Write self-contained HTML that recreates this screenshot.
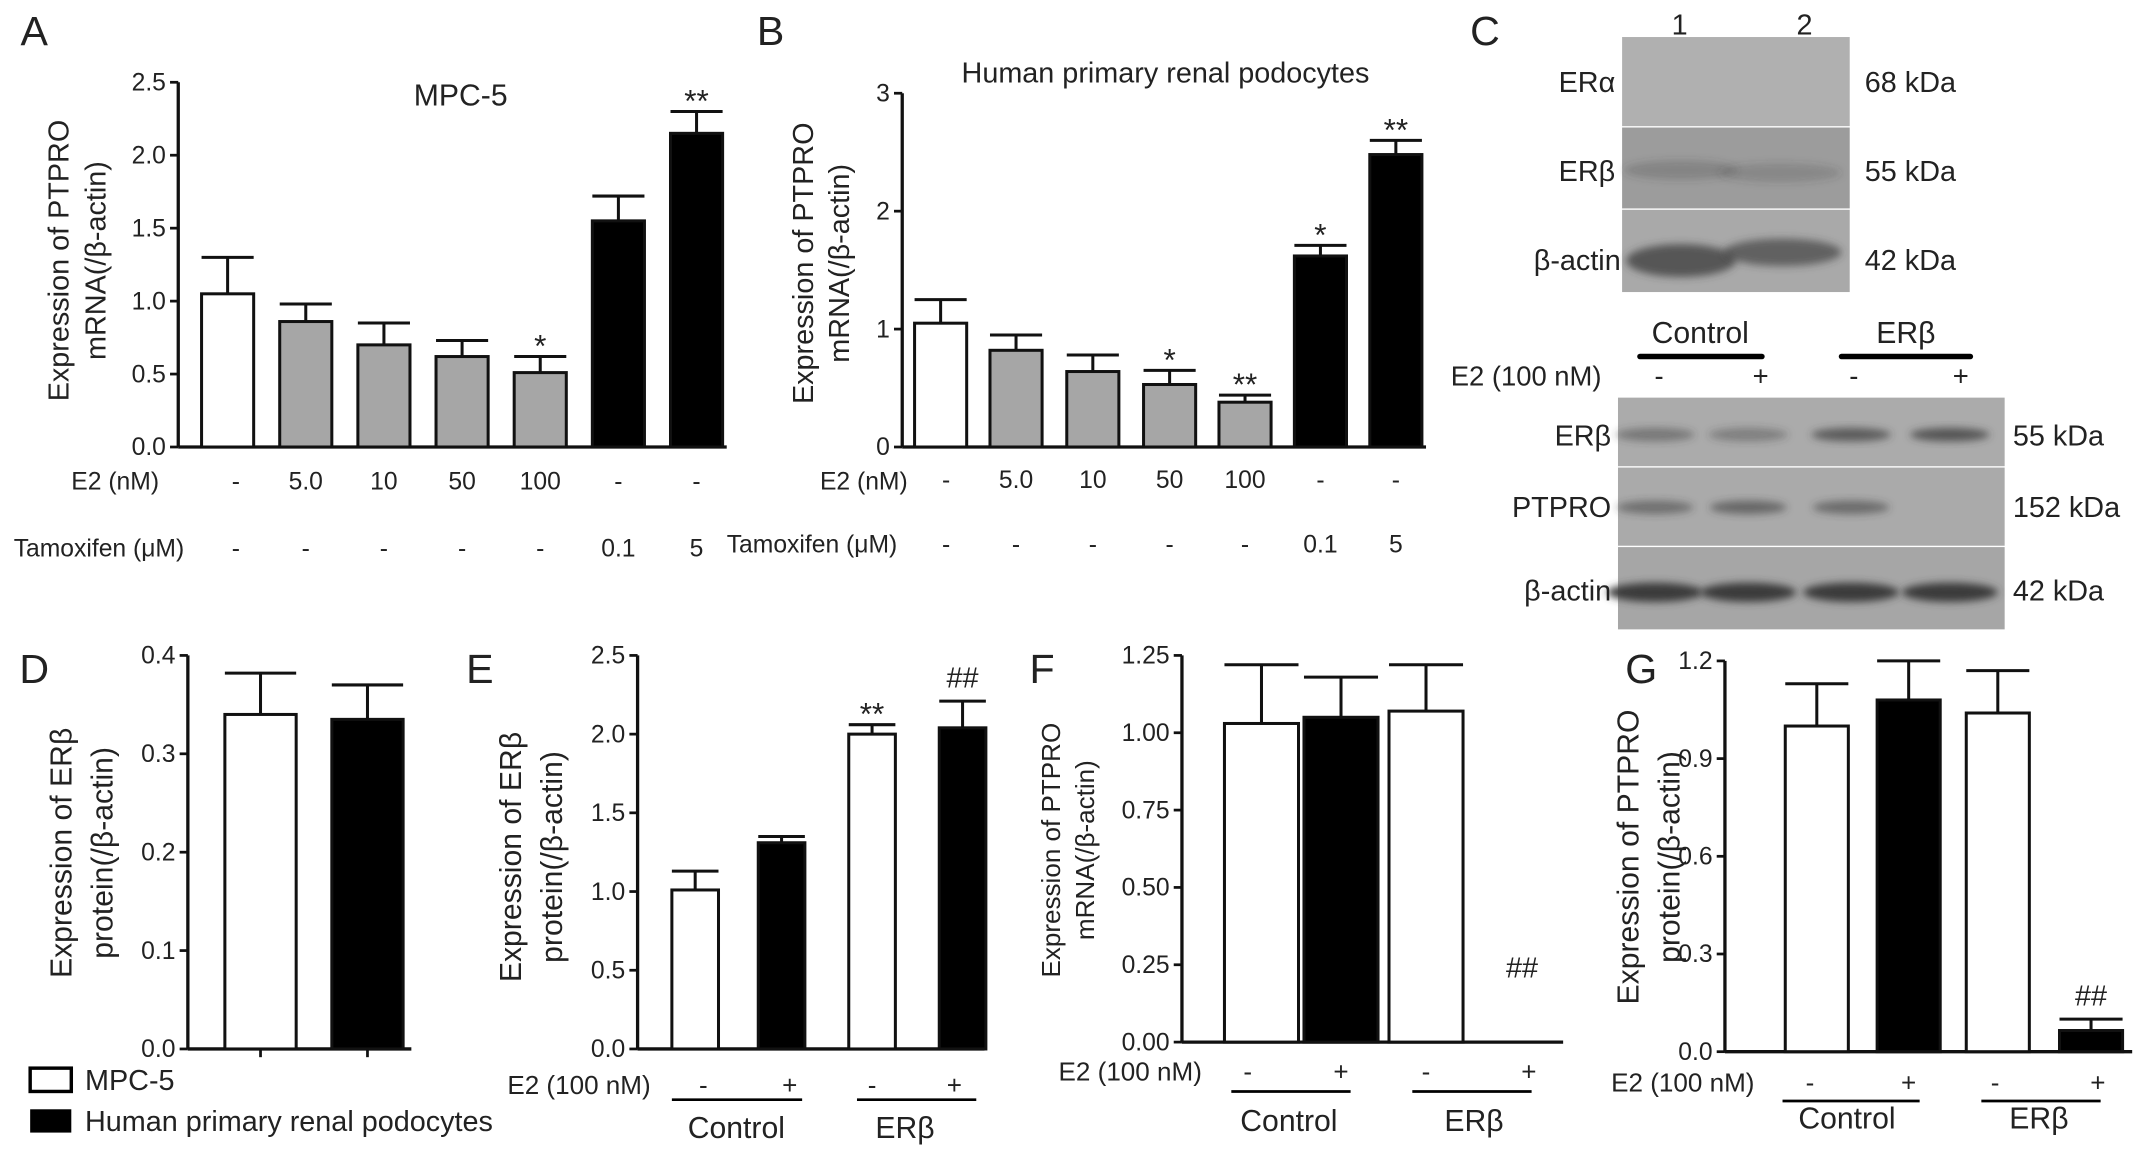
<!DOCTYPE html>
<html><head><meta charset="utf-8">
<style>
html,body{margin:0;padding:0;background:#fff;}
svg{display:block;}
text{font-family:"Liberation Sans",sans-serif;fill:#222;}
</style></head>
<body>
<svg id="fig" width="2150" height="1157" viewBox="0 0 1568 843.8" preserveAspectRatio="none" xmlns="http://www.w3.org/2000/svg">
<defs><filter id="blur" x="-20%" y="-50%" width="140%" height="200%"><feGaussianBlur stdDeviation="3"/></filter></defs>
<g id="root"></g>
</svg>
<script>
// ---- Panel A data (MPC-5) ----
const aValues=[1.05,0.86,0.70,0.62,0.51,1.55,2.15];
const aErrors=[0.25,0.12,0.15,0.11,0.11,0.17,0.15];
const aStars=["","","","","*","","**"];
const aE2=["-","5.0","10","50","100","-","-"];
const aTam=["-","-","-","-","-","0.1","5"];
const aTicks=["0.0","0.5","1.0","1.5","2.0","2.5"];
// ---- Panel B data ----
const bValues=[1.05,0.82,0.64,0.53,0.38,1.62,2.48];
const bErrors=[0.20,0.13,0.14,0.12,0.06,0.09,0.12];
const bStars=["","","","*","**","*","**"];
const bE2=["-","5.0","10","50","100","-","-"];
const bTam=["-","-","-","-","-","0.1","5"];
const bTicks=["0","1","2","3"];
// ---- Panel D ----
const dValues=[0.34,0.335];
const dErrors=[0.042,0.035];
const dTicks=["0.0","0.1","0.2","0.3","0.4"];
// ---- Panel E ----
const eValues=[1.01,1.31,2.0,2.04];
const eErrors=[0.12,0.04,0.06,0.17];
const eMarks=["","","**","##"];
const eTicks=["0.0","0.5","1.0","1.5","2.0","2.5"];
// ---- Panel F ----
const fValues=[1.03,1.05,1.07,0];
const fErrors=[0.19,0.13,0.15,0];
const fMarks=["","","",""];
const fTicks=["0.00","0.25","0.50","0.75","1.00","1.25"];
// ---- Panel G ----
const gValues=[1.0,1.08,1.04,0.065];
const gErrors=[0.13,0.12,0.13,0.035];
const gMarks=["","","","##"];
const gTicks=["0.0","0.3","0.6","0.9","1.2"];
const e2Signs=["-","+","-","+"];

const NS="http://www.w3.org/2000/svg";
const root=document.getElementById('root');
function el(tag,attrs,parent){const e=document.createElementNS(NS,tag);for(const k in attrs)e.setAttribute(k,attrs[k]);(parent||root).appendChild(e);return e;}
function txt(x,y,s,size,anchor,name,parent,extra){const t=el('text',Object.assign({x:x,y:y,'font-size':size,'text-anchor':anchor||'middle'},extra||{}),parent);t.textContent=s;


return t;}

function panel(o){
  const g=el('g',{});
  
  
  const ymax=parseFloat(o.ticks[o.ticks.length-1]);
  const y=v=>o.bottom-(v/ymax)*(o.bottom-o.top);
  const x=i=>o.centers[i];
  const ax=el('line',{x1:o.axisX,y1:o.top,x2:o.axisX,y2:o.bottom,stroke:'#111','stroke-width':2.4},g);
  
  
  const bx=el('line',{x1:o.axisX,y1:o.bottom,x2:o.axisEnd,y2:o.bottom,stroke:'#111','stroke-width':2.4},g);
  
  
  o.ticks.forEach((t,i)=>{const v=parseFloat(t);const yy=y(v);
    const tk=el('line',{x1:o.axisX-6,y1:yy,x2:o.axisX,y2:yy,stroke:'#111','stroke-width':2},g);
    
    
    txt(o.axisX-9,yy+6,t,18,'end','y-tick-label',g);});
  if(o.xticks){o.centers.forEach(c=>{const tk=el('line',{x1:c,y1:o.bottom,x2:c,y2:o.bottom+6,stroke:'#111','stroke-width':2},g);
    
    });}
  o.values.forEach((v,i)=>{
    const top=y(v+o.errors[i]);
    if(o.errors[i]>0){
      const e1=el('line',{x1:x(i),y1:y(v),x2:x(i),y2:top,stroke:'#111','stroke-width':2.2},g);
      
      
      const e2=el('line',{x1:x(i)-o.bw/2,y1:top,x2:x(i)+o.bw/2,y2:top,stroke:'#111','stroke-width':2.2},g);
      
      
    }
    if(v>0){
      const r=el('rect',{x:x(i)-o.bw/2,y:y(v),width:o.bw,height:o.bottom-y(v),fill:o.colors[i],stroke:'#111','stroke-width':2.2},g);
      
      
    }
    if(o.marks&&o.marks[i]){
      const isHash=o.marks[i].startsWith('#');
      const yy=top-(isHash?10:8);
      txt(x(i),isHash?yy:yy+8,o.marks[i],isHash?21:23,'middle','significance-mark',g,isHash?{'font-family':'Liberation Serif, serif'}:{});
    }
  });
  return g;
}

[["A",25,33],["B",562,33],["C",1083,33],["D",25,498],["E",350,498],["F",760,498],["G",1197,498]].forEach(l=>txt(l[1],l[2],l[0],30,'middle','panel-label-'+l[0].toLowerCase()));

const W='#fff',K='#000',G='#a6a6a6';
panel({name:'panel-a-chart',axisX:130,axisEnd:530,top:60,bottom:326,ticks:aTicks,values:aValues,errors:aErrors,
  centers:[166,223,280,337,394,451,508],bw:38,colors:[W,G,G,G,G,K,K],marks:aStars});
txt(336,77,'MPC-5',22,'middle','panel-a-title');
txt(50,190,'Expression of PTPRO',21,'middle','panel-a-y-title',null,{transform:'rotate(-90 50 190)'});
txt(77,190,'mRNA(/β-actin)',21,'middle','panel-a-y-title-2',null,{transform:'rotate(-90 77 190)'});
txt(52,357,'E2 (nM)',18,'start','e2-label');
[166,223,280,337,394,451,508].forEach((c,i)=>{txt(i==0?172:c,357,aE2[i],18,'middle','e2-value');txt(i==0?172:c,406,aTam[i],18,'middle','tamoxifen-value');});
txt(10,406,'Tamoxifen (μM)',18,'start','tamoxifen-label');

panel({name:'panel-b-chart',axisX:658,axisEnd:1040,top:68,bottom:326,ticks:bTicks,values:bValues,errors:bErrors,
  centers:[686,741,797,853,908,963,1018],bw:38,colors:[W,G,G,G,G,K,K],marks:bStars});
txt(850,60,'Human primary renal podocytes',21,'middle','panel-b-title');
txt(593,192,'Expression of PTPRO',21,'middle','panel-b-y-title',null,{transform:'rotate(-90 593 192)'});
txt(619,192,'mRNA(/β-actin)',21,'middle','panel-b-y-title-2',null,{transform:'rotate(-90 619 192)'});
txt(598,357,'E2 (nM)',18,'start','e2-label');
txt(530,403,'Tamoxifen (μM)',18,'start','tamoxifen-label');
[686,741,797,853,908,963,1018].forEach((c,i)=>{txt(i==0?690:c,356,bE2[i],18,'middle','e2-value');txt(i==0?690:c,403,bTam[i],18,'middle','tamoxifen-value');});

function band(x,y,w,h,op){const b=el('ellipse',{cx:x,cy:y,rx:w/2,ry:h/2,fill:'#3a3a3a','fill-opacity':op,filter:'url(#blur)'});
  
  }
function strip(x,y,w,h,fill){const r=el('rect',{x:x,y:y,width:w,height:h,fill:fill});
  
  }
strip(1183,27,166,65,'#b0b0b0');strip(1183,93,166,59,'#9c9c9c');strip(1183,153,166,60,'#a9a9a9');
band(1226,124,84,14,0.25);band(1298,126,90,14,0.2);
band(1226,190,80,24,0.75);band(1300,184,86,20,0.65);
txt(1225,25,'1',21,'middle','lane-1');txt(1316,25,'2',21,'middle','lane-2');
txt(1178,67,'ERα',21,'end','blot-label-era');txt(1178,132,'ERβ',21,'end','blot-label-erb');txt(1182,197,'β-actin',21,'end','blot-label-actin');
txt(1360,67,'68 kDa',21,'start','kda-68');txt(1360,132,'55 kDa',21,'start','kda-55');txt(1360,197,'42 kDa',21,'start','kda-42');
strip(1180,290,282,50,'#ababab');strip(1180,341,282,57,'#aaaaaa');strip(1180,399,282,60,'#a6a6a6');
[[1207,0.45],[1275,0.38],[1350,0.7],[1422,0.75]].forEach(b=>band(b[0],317,58,10,b[1]));
[[1207,0.5],[1275,0.6],[1350,0.55]].forEach(b=>band(b[0],370,56,10,b[1]));
[1207,1275,1350,1422].forEach(c=>band(c,432,70,14,1));
txt(1240,250,'Control',22,'middle','blot-group-control');txt(1390,250,'ERβ',22,'middle','blot-group-erb');
[[1196,1285],[1343,1437]].forEach(u=>{const l=el('line',{x1:u[0],y1:260,x2:u[1],y2:260,stroke:'#000','stroke-width':4,'stroke-linecap':'round'});
  
  });
txt(1058,281,'E2 (100 nM)',20,'start','e2-label');
[1210,1284,1352,1430].forEach((c,i)=>txt(c,281,e2Signs[i],20,'middle','e2-sign'));
txt(1175,325,'ERβ',21,'end','blot-label-erb-2');txt(1175,377,'PTPRO',21,'end','blot-label-ptpro');txt(1175,438,'β-actin',21,'end','blot-label-actin-2');
txt(1468,325,'55 kDa',21,'start','kda-55-2');txt(1468,377,'152 kDa',21,'start','kda-152');txt(1468,438,'42 kDa',21,'start','kda-42-2');

panel({name:'panel-d-chart',axisX:137,axisEnd:300,top:478,bottom:765,ticks:dTicks,values:dValues,errors:dErrors,
  centers:[190,268],bw:52,colors:[W,K],xticks:true});
txt(52,622,'Expression of ERβ',22,'middle','panel-d-y-title',null,{transform:'rotate(-90 52 622)'});
txt(82,622,'protein(/β-actin)',22,'middle','panel-d-y-title-2',null,{transform:'rotate(-90 82 622)'});
const l1=el('rect',{x:22,y:779,width:30,height:17,fill:'#fff',stroke:'#000','stroke-width':2.5});


const l2=el('rect',{x:22,y:809,width:30,height:17,fill:'#000'});


txt(62,795,'MPC-5',21,'start','legend-entry-mpc5');txt(62,825,'Human primary renal podocytes',21,'start','legend-entry-human');

function groupLabels(cx,ylab,e2x,ulY,ul,ctrlX,erbX,grpY,name){
  txt(e2x,ylab,'E2 (100 nM)',19,'start','e2-label');
  cx.forEach((c,i)=>txt(c,ylab,e2Signs[i],19,'middle','e2-sign'));
  ul.forEach(u=>{const l=el('line',{x1:u[0],y1:ulY,x2:u[1],y2:ulY,stroke:'#000','stroke-width':2});
    
    });
  txt(ctrlX,grpY,'Control',22,'middle',name+'-control');
  txt(erbX,grpY,'ERβ',22,'middle',name+'-erb');
}
panel({name:'panel-e-chart',axisX:465,axisEnd:718,top:478,bottom:765,ticks:eTicks,values:eValues,errors:eErrors,
  centers:[507,570,636,702],bw:34,colors:[W,K,W,K],marks:eMarks});
txt(380,625,'Expression of ERβ',22,'middle','panel-e-y-title',null,{transform:'rotate(-90 380 625)'});
txt(410,625,'protein(/β-actin)',22,'middle','panel-e-y-title-2',null,{transform:'rotate(-90 410 625)'});
groupLabels([513,576,636,696],798,370,802,[[490,585],[625,712]],537,660,830,'panel-e');

panel({name:'panel-f-chart',axisX:862,axisEnd:1140,top:478,bottom:760,ticks:fTicks,values:fValues,errors:fErrors,
  centers:[920,978,1040,1110],bw:54,colors:[W,K,W,K],marks:fMarks});
txt(1110,713,'##',21,'middle','significance-mark',null,{'font-family':'Liberation Serif, serif'});
txt(773,620,'Expression of PTPRO',19,'middle','panel-f-y-title',null,{transform:'rotate(-90 773 620)'});
txt(798,620,'mRNA(/β-actin)',19,'middle','panel-f-y-title-2',null,{transform:'rotate(-90 798 620)'});
groupLabels([910,978,1040,1115],788,772,796,[[898,985],[1030,1117]],940,1075,825,'panel-f');

panel({name:'panel-g-chart',axisX:1258,axisEnd:1555,top:482,bottom:767,ticks:gTicks,values:gValues,errors:gErrors,
  centers:[1325,1392,1457,1525],bw:46,colors:[W,K,W,K],marks:gMarks});
txt(1195,625,'Expression of PTPRO',22,'middle','panel-g-y-title',null,{transform:'rotate(-90 1195 625)'});
txt(1225,625,'protein(/β-actin)',22,'middle','panel-g-y-title-2',null,{transform:'rotate(-90 1225 625)'});
groupLabels([1320,1392,1455,1530],796,1175,803,[[1300,1400],[1445,1532]],1347,1487,823,'panel-g');
</script>
</body></html>
